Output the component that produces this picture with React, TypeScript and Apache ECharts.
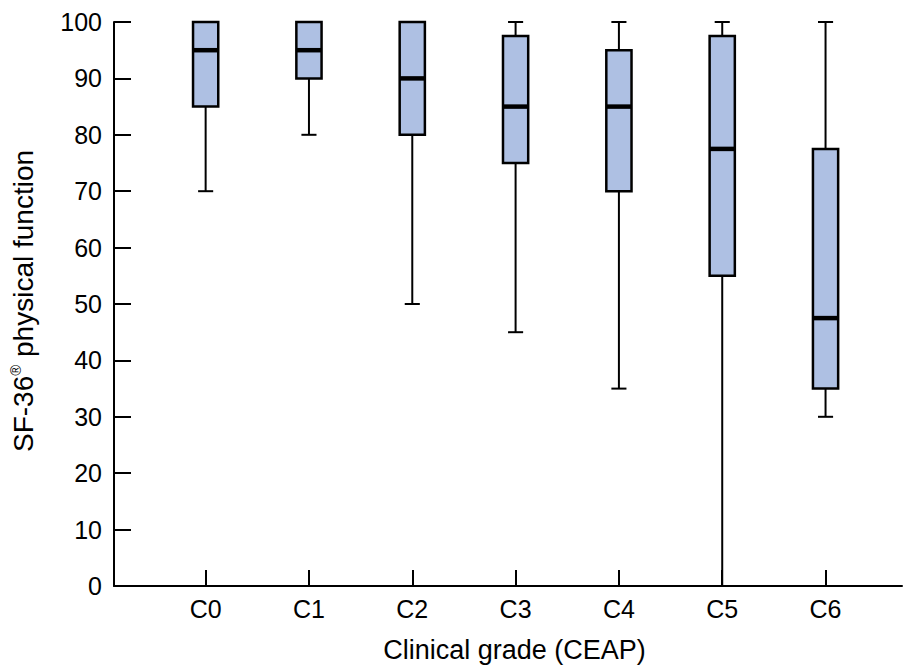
import React, { useEffect, useRef } from "react";
import * as echarts from "echarts";

const categories = ["C0", "C1", "C2", "C3", "C4", "C5", "C6"];
const mins = [70, 80, 50, 45, 35, 0, 30];
const q1s = [85, 90, 80, 75, 70, 55, 35];
const medians = [95, 95, 90, 85, 85, 77.5, 47.5];
const q3s = [100, 100, 100, 97.5, 95, 97.5, 77.5];
const maxs = [100, 100, 100, 100, 100, 100, 100];
const yTicks = [0, 10, 20, 30, 40, 50, 60, 70, 80, 90, 100];

const FONT = "'Liberation Sans', Arial, Helvetica, sans-serif";

export default function App() {
  const ref = useRef<HTMLDivElement>(null);
  useEffect(() => {
    document.body.style.margin = "0";
    if (!ref.current) return;
    const chart = echarts.init(ref.current, null, { renderer: "svg" });
    const data = categories.map((_, i) => [i, mins[i], q1s[i], medians[i], q3s[i], maxs[i]]);
    const catIdx = categories.map((_, i) => i);
    chart.setOption({
      animation: false,
      backgroundColor: "#ffffff",
      grid: { left: 114, right: 2, top: 22, bottom: 85 },
      xAxis: {
        type: "value",
        min: -0.887,
        max: 6.74,
        splitLine: { show: false },
        axisLine: { show: true, onZero: false, lineStyle: { color: "#000", width: 2 } },
        axisTick: {
          show: true,
          inside: true,
          length: 16,
          lineStyle: { color: "#000", width: 2 },
          customValues: catIdx,
        },
        axisLabel: {
          customValues: catIdx,
          formatter: (v: number) => categories[Math.round(v)] ?? "",
          color: "#000",
          fontFamily: FONT,
          fontSize: 25,
          margin: 10,
        },
        name: "Clinical grade (CEAP)",
        nameLocation: "middle",
        nameGap: 50,
        nameTextStyle: { color: "#000", fontFamily: FONT, fontSize: 27, padding: [0, 0, 0, 13] },
      },
      yAxis: {
        type: "value",
        min: 0,
        max: 100,
        interval: 10,
        splitLine: { show: false },
        axisLine: { show: true, onZero: false, lineStyle: { color: "#000", width: 2 } },
        axisTick: { show: true, inside: true, length: 17, lineStyle: { color: "#000", width: 2 } },
        axisLabel: {
          color: "#000",
          fontFamily: FONT,
          fontSize: 25,
          margin: 12,
          formatter: (v: number) => (yTicks.includes(v) ? String(v) : ""),
        },
        name: "{a|SF-36}{b|®}{a| physical function}",
        nameLocation: "middle",
        nameRotate: 90,
        nameGap: 76,
        nameTextStyle: {
          color: "#000",
          fontFamily: FONT,
          fontSize: 28,
          padding: [0, 0, 0, 6],
          rich: {
            a: { color: "#000", fontFamily: FONT, fontSize: 28, lineHeight: 30 },
            b: { color: "#000", fontFamily: FONT, fontSize: 15, verticalAlign: "top", lineHeight: 30 },
          },
        },
      },
      series: [
        {
          type: "custom",
          data,
          encode: { x: 0, y: [1, 2, 3, 4, 5] },
          renderItem: (params: any, api: any) => {
            const x = api.value(0);
            const pMin = api.coord([x, api.value(1)]);
            const pQ1 = api.coord([x, api.value(2)]);
            const pMed = api.coord([x, api.value(3)]);
            const pQ3 = api.coord([x, api.value(4)]);
            const pMax = api.coord([x, api.value(5)]);
            const band = api.size([1, 0])[0];
            const half = band * 0.122;
            const capHalf = band * 0.073;
            const cx = pMin[0];
            const lineStyle = { stroke: "#000", lineWidth: 2 };
            return {
              type: "group",
              children: [
                { type: "line", shape: { x1: cx, y1: pQ1[1], x2: cx, y2: pMin[1] }, style: lineStyle },
                { type: "line", shape: { x1: cx, y1: pQ3[1], x2: cx, y2: pMax[1] }, style: lineStyle },
                { type: "line", shape: { x1: cx - capHalf, y1: pMin[1], x2: cx + capHalf, y2: pMin[1] }, style: lineStyle },
                { type: "line", shape: { x1: cx - capHalf, y1: pMax[1], x2: cx + capHalf, y2: pMax[1] }, style: lineStyle },
                {
                  type: "rect",
                  shape: { x: cx - half, y: pQ3[1], width: half * 2, height: pQ1[1] - pQ3[1] },
                  style: { fill: "#aec0e3", stroke: "#000", lineWidth: 2.5 },
                },
                {
                  type: "line",
                  shape: { x1: cx - half, y1: pMed[1], x2: cx + half, y2: pMed[1] },
                  style: { stroke: "#000", lineWidth: 4.5 },
                },
              ],
            };
          },
        },
      ],
    });
    return () => chart.dispose();
  }, []);
  return <div ref={ref} style={{ width: 904, height: 671 }} />;
}
